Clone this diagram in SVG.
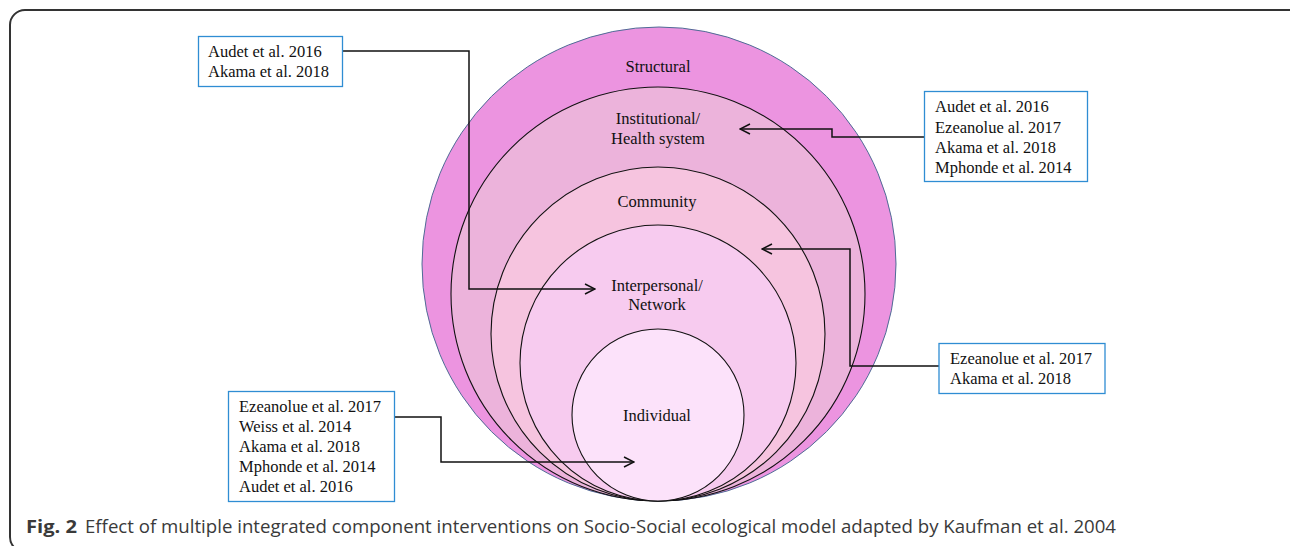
<svg xmlns="http://www.w3.org/2000/svg" width="1290" height="546" viewBox="0 0 1290 546">
<style>
.lbl{font-family:"Liberation Serif","Times New Roman",serif;font-size:16.5px;fill:#111}
.ctr{text-anchor:middle}
.box{fill:#fff;stroke:#2F8DD3;stroke-width:1.3}
.ring{stroke:#111;stroke-width:1.1}
.conn{fill:none;stroke:#111;stroke-width:1.5}
.cap{font-family:"Open Sans","Liberation Sans",sans-serif;font-size:18px;fill:#3a3a3a}
</style>
<defs>
<marker id="arr" viewBox="0 0 12 12" refX="11" refY="6" markerWidth="12" markerHeight="12" markerUnits="userSpaceOnUse" orient="auto">
<polyline points="1,1 11,6 1,11" fill="none" stroke="#111" stroke-width="1.5"/>
</marker>
</defs>
<rect width="1290" height="546" fill="#fff"/>
<rect id="frame" x="10" y="10" width="1300" height="542" rx="15" fill="none" stroke="#333" stroke-width="2"/>
<g id="structural">
<circle cx="659" cy="264" r="237" fill="#EC94E0" stroke="#4F6C96" stroke-width="1"/>
<text class="lbl ctr" x="658" y="72">Structural</text>
</g>
<g id="institutional">
<circle class="ring" cx="658" cy="294" r="207" fill="#ECB3DB"/>
<text class="lbl ctr" x="658" y="124">Institutional/</text>
<text class="lbl ctr" x="658" y="144">Health system</text>
</g>
<g id="community">
<circle class="ring" cx="658" cy="334" r="167" fill="#F6C4DF"/>
<text class="lbl ctr" x="657" y="207">Community</text>
</g>
<g id="interpersonal">
<circle class="ring" cx="658" cy="363" r="138" fill="#F7CBEF"/>
<text class="lbl ctr" x="657" y="291">Interpersonal/</text>
<text class="lbl ctr" x="657" y="310">Network</text>
</g>
<g id="individual">
<circle class="ring" cx="658" cy="415" r="86" fill="#FCE2FA"/>
<text class="lbl ctr" x="657" y="421">Individual</text>
</g>
<g id="connectors">
<polyline class="conn" points="342,51 469,51 469,289 595,289" marker-end="url(#arr)"/>
<polyline class="conn" points="924,137 832,137 832,129 740,129" marker-end="url(#arr)"/>
<polyline class="conn" points="939,366 850,366 850,249 762,249" marker-end="url(#arr)"/>
<polyline class="conn" points="395,417 441,417 441,462 634,462" marker-end="url(#arr)"/>
</g>
<g id="box1">
<rect class="box" x="198.5" y="36.5" width="144" height="50"/>
<text class="lbl" x="208" y="57">Audet et al. 2016</text>
<text class="lbl" x="208" y="77">Akama et al. 2018</text>
</g>
<g id="box2">
<rect class="box" x="924.5" y="91.5" width="163" height="90"/>
<text class="lbl" x="935" y="112">Audet et al. 2016</text>
<text class="lbl" x="935" y="132.5">Ezeanolue al. 2017</text>
<text class="lbl" x="935" y="153">Akama et al. 2018</text>
<text class="lbl" x="935" y="173">Mphonde et al. 2014</text>
</g>
<g id="box3">
<rect class="box" x="939" y="343.5" width="166" height="50"/>
<text class="lbl" x="950" y="364">Ezeanolue et al. 2017</text>
<text class="lbl" x="950" y="384">Akama et al. 2018</text>
</g>
<g id="box4">
<rect class="box" x="228.5" y="391.5" width="166" height="110"/>
<text class="lbl" x="239" y="412">Ezeanolue et al. 2017</text>
<text class="lbl" x="239" y="432">Weiss et al. 2014</text>
<text class="lbl" x="239" y="452">Akama et al. 2018</text>
<text class="lbl" x="239" y="472">Mphonde et al. 2014</text>
<text class="lbl" x="239" y="492">Audet et al. 2016</text>
</g>
<g id="caption">
<text class="cap" x="26" y="533" font-weight="bold" fill="#222" textLength="51" lengthAdjust="spacingAndGlyphs">Fig. 2</text>
<text class="cap" x="85" y="533" textLength="1031" lengthAdjust="spacingAndGlyphs">Effect of multiple integrated component interventions on Socio-Social ecological model adapted by Kaufman et al. 2004</text>
</g>
</svg>
